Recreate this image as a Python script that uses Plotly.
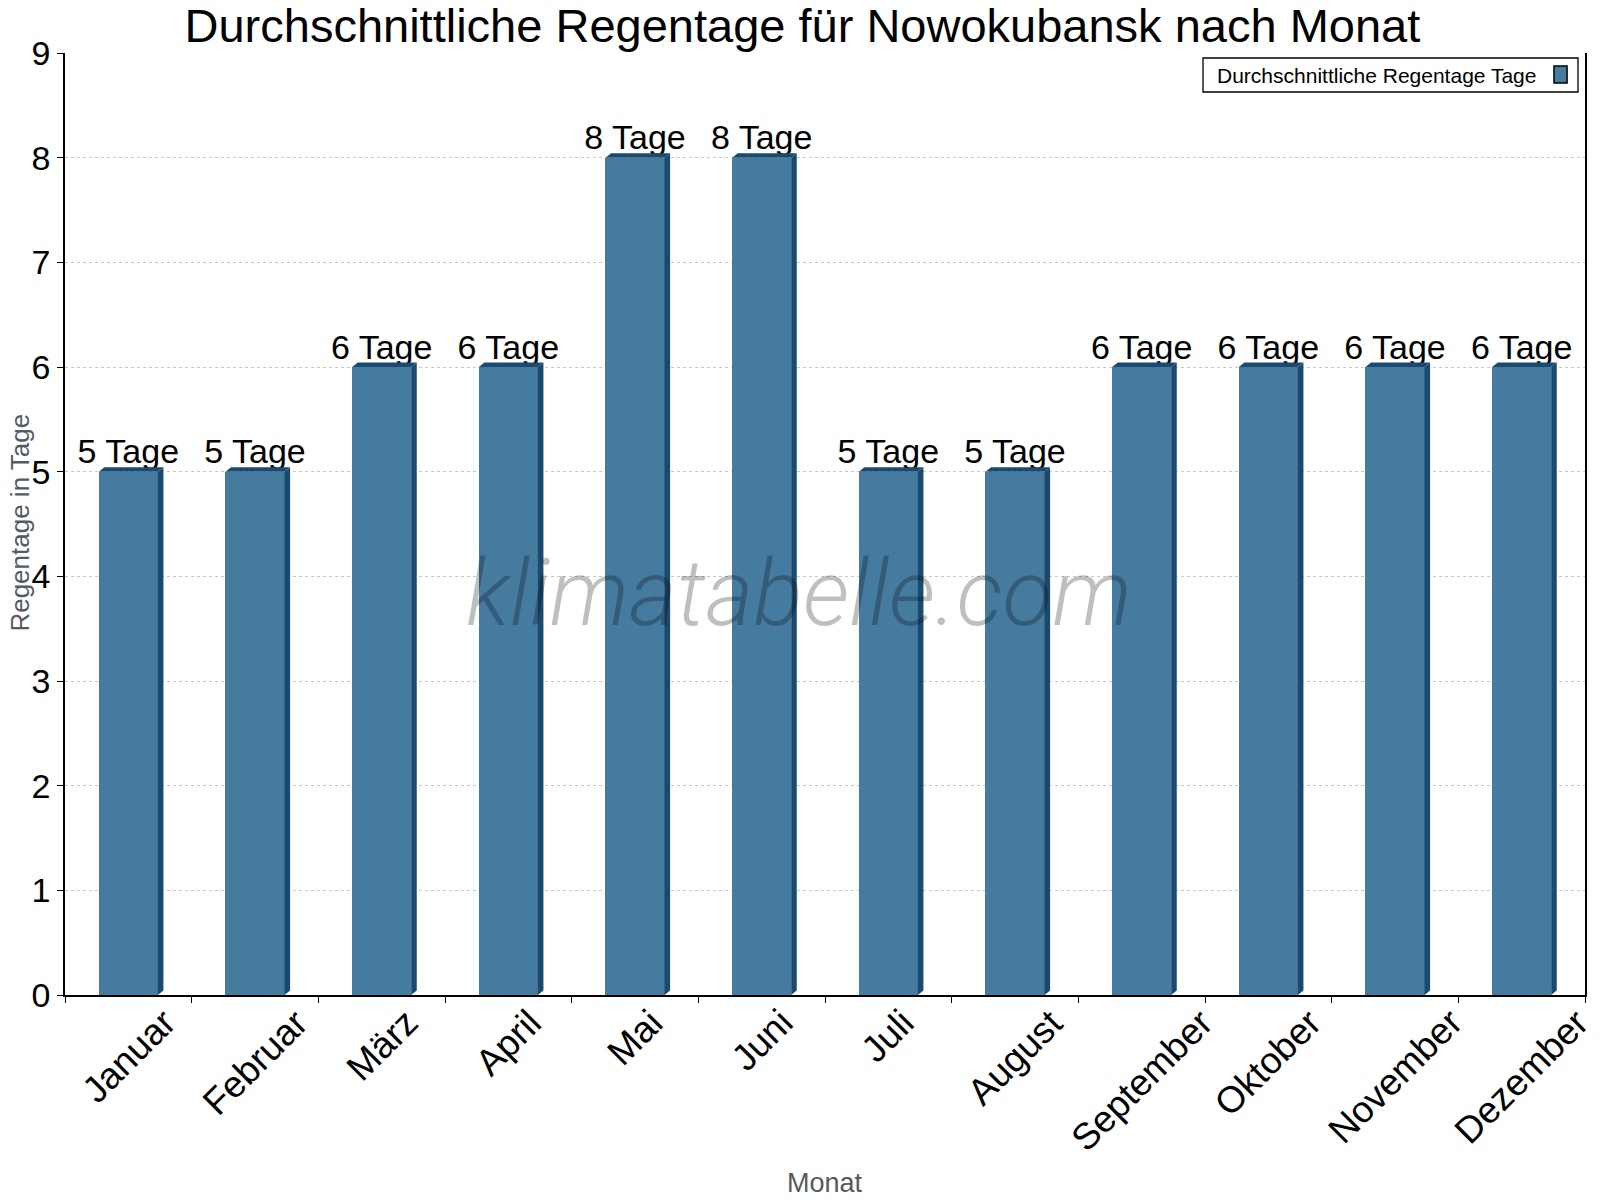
import plotly.graph_objects as go

months = ["Januar", "Februar", "März", "April", "Mai", "Juni", "Juli",
          "August", "September", "Oktober", "November", "Dezember"]
rain_days = [5, 5, 6, 6, 8, 8, 5, 5, 6, 6, 6, 6]
labels = [f"{v} Tage" for v in rain_days]

FRONT = "#467ba0"
DARK = "#1a4b6f"
FONT = "Liberation Sans, Arial"
W = 0.466      # bar width (category units)
DX = 0.044     # 3D depth in x (category units)
DY = 0.043     # 3D depth in y (data units)

n = len(months)
fig = go.Figure()
fig.add_trace(go.Bar(
    x=list(range(n)), y=rain_days, width=W,
    marker=dict(color=FRONT, line=dict(width=0)),
    showlegend=False, hoverinfo="skip"))

fig.add_trace(go.Scatter(
    x=list(range(n)), y=rain_days, mode="text", text=labels,
    textposition="top center",
    textfont=dict(family=FONT, size=34, color="#000"),
    showlegend=False, hoverinfo="skip", cliponaxis=False))

shapes = []
for i, v in enumerate(rain_days):
    xl, xr = i - W / 2, i + W / 2
    side = f"M {xr},0 L {xr+DX},{DY} L {xr+DX},{v+DY} L {xr},{v} Z"
    top = f"M {xl},{v} L {xl+DX},{v+DY} L {xr+DX},{v+DY} L {xr},{v} Z"
    for p in (side, top):
        shapes.append(dict(type="path", path=p, xref="x", yref="y",
                           fillcolor=DARK, line=dict(width=0), layer="above"))

# legend box (manual, symbol on the right)
shapes.append(dict(type="rect", xref="paper", yref="paper",
                   x0=0.7487, x1=0.9954, y0=0.9586, y1=0.9947,
                   line=dict(color="#000", width=1.3), fillcolor="white"))
shapes.append(dict(type="rect", xref="paper", yref="paper",
                   x0=0.9796, x1=0.9882, y0=0.9682, y1=0.9862,
                   line=dict(color="#000", width=1.5), fillcolor=FRONT))

annotations = [
    dict(text="Durchschnittliche Regentage Tage", xref="paper", yref="paper",
         x=0.7566, y=0.9766, xanchor="left", yanchor="middle", showarrow=False,
         font=dict(family=FONT, size=21, color="#000")),
    dict(text="klimatabelle.com", xref="paper", yref="paper",
         x=0.4832, y=0.426, xanchor="center", yanchor="middle", showarrow=False,
         font=dict(family="Roboto", size=92, color="rgba(0,0,0,0.25)",
                   style="italic", weight=300)),
    dict(text="Regentage in Tage", xref="paper", yref="paper",
         x=-0.0293, y=0.502, xanchor="center", yanchor="middle", textangle=-90,
         showarrow=False,
         font=dict(family=FONT, size=26, color="#555a60")),
    dict(text="Monat", xref="paper", yref="paper",
         x=0.5, y=-0.2, xanchor="center", yanchor="middle", showarrow=False,
         font=dict(family=FONT, size=27, color="#555a60")),
]

# rotated category labels (rotated about their centres, tops aligned)
for i, m in enumerate(months):
    annotations.append(dict(
        text=m, xref="x", yref="paper", x=i, y=-0.004,
        xanchor="center", yanchor="top", textangle=-45, showarrow=False,
        font=dict(family=FONT, size=37, color="#000")))

fig.update_layout(
    width=1600, height=1200,
    margin=dict(l=65, r=15, t=53, b=205, autoexpand=False),
    plot_bgcolor="white", paper_bgcolor="white",
    title=dict(text="Durchschnittliche Regentage für Nowokubansk nach Monat",
               x=0.5015, xanchor="center", y=0.979, yanchor="middle",
               font=dict(family=FONT, size=47, color="#000")),
    shapes=shapes, annotations=annotations,
    bargap=0,
)

# ticks on category boundaries
fig.update_xaxes(
    range=[-0.5, n - 0.5], tickmode="array",
    tickvals=[k - 0.5 for k in range(n + 1)],
    showticklabels=False,
    ticks="outside", ticklen=6, tickcolor="#000",
    showline=True, linecolor="#000", linewidth=1.5,
    showgrid=False, zeroline=False)

fig.update_yaxes(
    range=[0, 9], dtick=1, ticks="outside", ticklen=6, tickcolor="#000",
    tickfont=dict(family=FONT, size=34, color="#000"),
    showline=True, linecolor="#000", linewidth=1.5, mirror=True,
    showgrid=True, gridcolor="#c8c8c8", griddash="dot", gridwidth=1,
    zeroline=False)

fig.write_html("out.html")
